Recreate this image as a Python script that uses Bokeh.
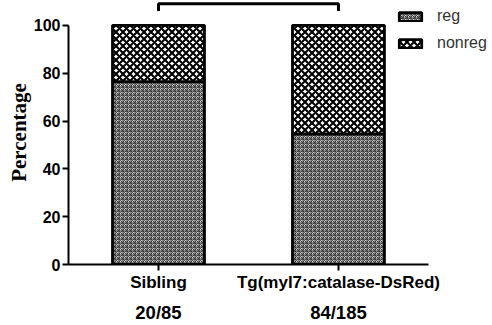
from bokeh.plotting import figure
from bokeh.models import (Range1d, FixedTicker, LinearAxis, Legend, LegendItem,
                          ColumnDataSource)
from bokeh.embed import file_html
from bokeh.resources import INLINE

# ---- data ----
groups = ["Sibling", "Tg(myl7:catalase-DsRed)"]
counts = ["20/85", "84/185"]
reg = [76.5, 54.6]
nonreg = [23.5, 45.4]
y_ticks = [0, 20, 40, 60, 80, 100]
bracket_y = [106, 109]

centers = [i + 0.5 for i in range(len(groups))]
tops = [r + n for r, n in zip(reg, nonreg)]
src_reg = ColumnDataSource(dict(x=centers, bottom=[0] * len(reg), top=reg))
src_non = ColumnDataSource(dict(x=centers, bottom=reg, top=tops))

p = figure(width=492, height=325, x_range=Range1d(0, 2.356),
           y_range=Range1d(0, 110.4), output_backend="svg", toolbar_location=None,
           min_border_left=68, min_border_right=0, min_border_top=0, min_border_bottom=0)
p.outline_line_color = None
p.xgrid.grid_line_color = None
p.ygrid.grid_line_color = None

common = dict(x="x", width=0.511, line_color="black", line_width=2.8)
r_reg = p.vbar(source=src_reg, bottom="bottom", top="top", fill_color="#d8d8d8",
               hatch_pattern="criss_cross", hatch_scale=4, hatch_weight=1,
               hatch_color="#333333", **common)
r_non = p.vbar(source=src_non, bottom="bottom", top="top", fill_color="white",
               hatch_pattern="diagonal_cross", hatch_scale=7, hatch_weight=2.1,
               hatch_color="black", **common)

p.line(x=[centers[0], centers[0], centers[1], centers[1]],
       y=[bracket_y[0], bracket_y[1], bracket_y[1], bracket_y[0]],
       line_color="black", line_width=3)

# y axis
ya = p.yaxis[0]
ya.bounds = (0, 100)
ya.ticker = FixedTicker(ticks=y_ticks)
ya.minor_tick_line_color = None
ya.axis_line_width = 2
ya.major_tick_line_width = 2
ya.major_tick_out = 6
ya.major_tick_in = 0
ya.major_label_standoff = 2
ya.major_label_text_font = "Liberation Sans"
ya.major_label_text_font_style = "bold"
ya.major_label_text_font_size = "16px"
ya.major_label_text_color = "black"
ya.axis_label = "Percentage"
ya.axis_label_text_font = "Liberation Serif"
ya.axis_label_text_font_style = "bold"
ya.axis_label_text_font_size = "21px"
ya.axis_label_text_color = "black"
ya.axis_label_standoff = 0

# x axis: group names
xa = p.xaxis[0]
xa.bounds = (0, len(groups))
xa.ticker = FixedTicker(ticks=centers)
xa.major_label_overrides = dict(zip(centers, groups))
xa.minor_tick_line_color = None
xa.axis_line_width = 2
xa.major_tick_line_width = 2
xa.major_tick_out = 6
xa.major_tick_in = 0
xa.major_label_standoff = 2
xa.major_label_text_font = "Liberation Sans"
xa.major_label_text_font_style = "bold"
xa.major_label_text_font_size = "17px"
xa.major_label_text_color = "black"

# second x axis: counts
xa2 = LinearAxis(ticker=FixedTicker(ticks=centers),
                 major_label_overrides=dict(zip(centers, counts)))
xa2.axis_line_color = None
xa2.major_tick_line_color = None
xa2.minor_tick_line_color = None
xa2.major_tick_out = 0
xa2.major_tick_in = 0
xa2.major_label_standoff = 7
xa2.major_label_text_font = "Liberation Sans"
xa2.major_label_text_font_style = "bold"
xa2.major_label_text_font_size = "18.5px"
xa2.major_label_text_color = "black"
p.add_layout(xa2, "below")

legend = Legend(items=[LegendItem(label="reg", renderers=[r_reg]),
                       LegendItem(label="nonreg", renderers=[r_non])],
                location=(328, 212), padding=0, margin=0,
                border_line_color=None, background_fill_alpha=0,
                glyph_width=28, glyph_height=11, label_height=18, spacing=9,
                label_standoff=13, label_text_font="Liberation Sans",
                label_text_font_size="16px", label_text_color="#333333")
p.add_layout(legend, "center")

open("out.html", "w").write(file_html(p, INLINE))
